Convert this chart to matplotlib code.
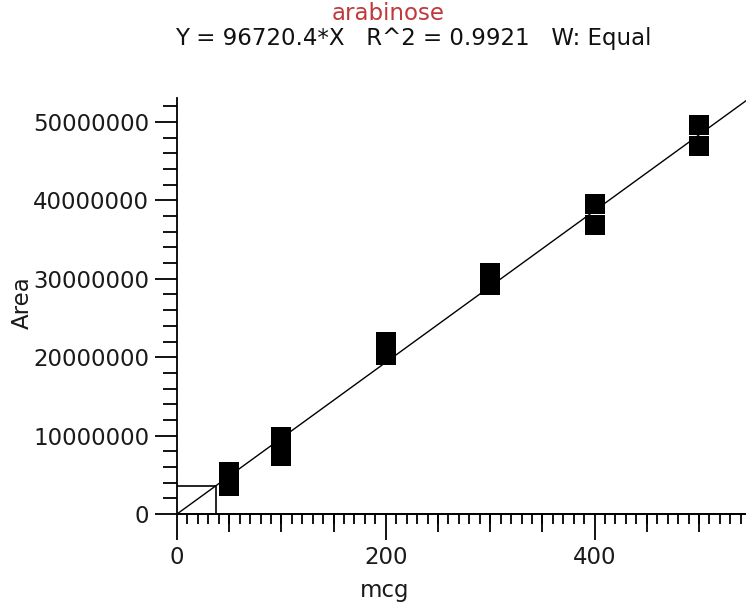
import matplotlib
matplotlib.use("Agg")
import matplotlib.pyplot as plt
import numpy as np
from matplotlib.ticker import MultipleLocator, FixedLocator, NullFormatter

# ---- data ----
conc = [50, 50, 100, 100, 200, 200, 300, 300, 400, 400, 500, 500]
area = [5.30e6, 3.55e6, 9.85e6, 7.38e6, 22.00e6, 20.25e6,
        30.68e6, 29.15e6, 39.54e6, 36.86e6, 49.62e6, 46.94e6]
slope = 96720.4
unknown_x = 37.0
title_txt = "arabinose"
subtitle_txt = "Y = 96720.4*X   R^2 = 0.9921   W: Equal"
x_ticks = [0, 200, 400]
y_ticks = [0, 10000000, 20000000, 30000000, 40000000, 50000000]

W, H = 746, 608
fig = plt.figure(figsize=(W / 100, H / 100), dpi=100)
fig.patch.set_facecolor("white")

left, bottom = 177 / W, 1 - 514 / H
top = 1 - 98.5 / H
ax = fig.add_axes([left, bottom, 1 - left, top - bottom])
ax.set_xlim(0, 545)
ax.set_ylim(0, 53e6)

for s in ("top", "right"):
    ax.spines[s].set_visible(False)
for s in ("left", "bottom"):
    ax.spines[s].set_linewidth(1.3)
    ax.spines[s].set_color("black")

# fit line
xl = np.array([0, 560])
ax.plot(xl, slope * xl, color="black", lw=1.0, clip_on=True, zorder=2)

# unknown drop lines
uy = slope * unknown_x
ax.plot([0, unknown_x, unknown_x], [uy, uy, 0], color="black", lw=1.2, zorder=2)

# points
ax.plot(conc, area, linestyle="none", marker="s", markersize=14.0,
        markerfacecolor="black", markeredgecolor="black", markeredgewidth=0,
        zorder=3)

fs = 16.5
txtc = "#1a1a1a"
# x ticks
ax.xaxis.set_major_locator(FixedLocator(x_ticks))
ax.xaxis.set_minor_locator(MultipleLocator(10))
ax.tick_params(axis="x", which="major", direction="out", length=19, width=1.3,
               labelsize=fs, pad=4)
ax.tick_params(axis="x", which="minor", direction="out", length=7, width=1.3)
sec = ax.secondary_xaxis("bottom")
sec.xaxis.set_major_locator(FixedLocator([50, 100, 150, 250, 300, 350, 450, 500]))
sec.xaxis.set_major_formatter(NullFormatter())
sec.tick_params(axis="x", which="major", direction="out", length=13, width=1.3)
sec.spines["bottom"].set_linewidth(1.3)

# y ticks
ax.yaxis.set_major_locator(FixedLocator(y_ticks))
ax.yaxis.set_minor_locator(MultipleLocator(2e6))
ax.yaxis.set_major_formatter(plt.FuncFormatter(lambda v, p: f"{int(round(v))}"))
ax.tick_params(axis="y", which="major", direction="out", length=16, width=1.3,
               labelsize=fs, pad=4)
ax.tick_params(axis="y", which="minor", direction="out", length=10, width=1.3)

for lab in ax.get_xticklabels() + ax.get_yticklabels():
    lab.set_color(txtc)

# labels and titles
fig.text(22 / W, 1 - 303 / H, "Area", rotation=90, ha="center", va="center",
         fontsize=fs, color=txtc)
fig.text(385 / W, 1 - 591 / H, "mcg", ha="center", va="center",
         fontsize=fs, color=txtc)
fig.text(388 / W, 1 - 13 / H, title_txt, ha="center", va="center",
         fontsize=fs, color="#c0393b")
fig.text(413 / W, 1 - 38 / H, subtitle_txt, ha="center", va="center",
         fontsize=fs, color="#111111")

fig.savefig("out.png", dpi=100, facecolor="white")
